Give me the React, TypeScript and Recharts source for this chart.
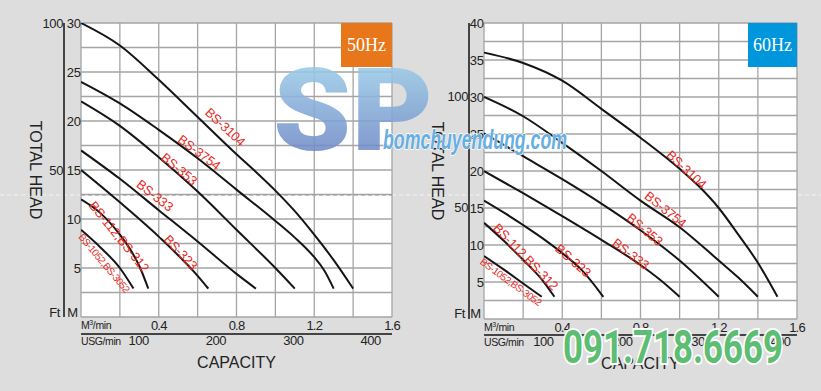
import { LineChart, Line, XAxis, YAxis, CartesianGrid, ReferenceDot, ReferenceLine } from 'recharts'

const MODELS = ['BS-3104', 'BS-3754', 'BS-353', 'BS-333', 'BS-323', 'BS-112,BS-312', 'BS-1052,BS-3052']

// 50Hz: capacity (m3/min) / total head (m)
const Q50_3104 = [0, 0.2, 0.4, 0.6, 0.8, 0.9, 1.0, 1.1, 1.2, 1.3, 1.4]
const H50_3104 = [30, 27.7, 24.2, 20.4, 16.6, 14.8, 12.9, 10.8, 8.4, 5.8, 2.9]
const Q50_3754 = [0, 0.2, 0.4, 0.6, 0.8, 1.0, 1.1, 1.2, 1.25, 1.3]
const H50_3754 = [24.0, 21.8, 19.1, 16.2, 13.0, 9.8, 8.1, 6.1, 4.8, 2.9]
const Q50_353 = [0, 0.2, 0.4, 0.6, 0.8, 1.0, 1.1]
const H50_353 = [22.0, 19.5, 16.3, 12.8, 8.9, 5.0, 2.9]
const Q50_333 = [0, 0.2, 0.4, 0.6, 0.8, 0.9]
const H50_333 = [17.0, 14.1, 10.9, 7.7, 4.4, 2.9]
const Q50_323 = [0, 0.2, 0.4, 0.6, 0.655]
const H50_323 = [15.0, 11.7, 8.2, 4.2, 2.9]
const Q50_112 = [0, 0.1, 0.2, 0.25, 0.3, 0.346]
const H50_112 = [12.0, 10.6, 8.4, 7.0, 5.2, 2.9]
const Q50_1052 = [0, 0.1, 0.2, 0.27]
const H50_1052 = [8.9, 7.1, 5.0, 2.9]

// 60Hz
const Q60_3104 = [0, 0.2, 0.4, 0.6, 0.8, 1.0, 1.1, 1.2, 1.3, 1.4, 1.5]
const H60_3104 = [36.0, 34.6, 32.2, 28.4, 24.5, 20.3, 17.9, 15.0, 11.4, 7.6, 3.0]
const Q60_3754 = [0, 0.2, 0.4, 0.6, 0.8, 1.0, 1.2, 1.3, 1.4]
const H60_3754 = [30.0, 27.4, 23.8, 20.0, 16.0, 12.4, 7.9, 5.6, 3.0]
const Q60_353 = [0, 0.2, 0.4, 0.6, 0.8, 1.0, 1.2]
const H60_353 = [25.1, 22.0, 18.9, 15.6, 12.0, 7.9, 3.0]
const Q60_333 = [0, 0.2, 0.4, 0.6, 0.8, 0.9, 1.0]
const H60_333 = [20.0, 17.0, 13.9, 10.7, 7.3, 5.3, 3.0]
const Q60_323 = [0, 0.1, 0.2, 0.3, 0.4, 0.5, 0.61]
const H60_323 = [16.0, 14.4, 12.7, 10.9, 8.9, 6.6, 3.0]
const Q60_112 = [0, 0.1, 0.2, 0.3, 0.36]
const H60_112 = [13.0, 10.6, 8.0, 5.2, 3.0]
const Q60_1052 = [0, 0.1, 0.2, 0.295]
const H60_1052 = [8.5, 6.7, 4.8, 3.0]

// where each model name sits (m3/min, m)
const LABEL_Q_50 = [0.742, 0.608, 0.505, 0.38, 0.513, 0.196, 0.119]
const LABEL_H_50 = [19.4, 16.8, 15.1, 12.4, 6.6, 8.2, 5.5]
const LABEL_Q_60 = [1.035, 0.928, 0.822, 0.75, 0.456, 0.213, 0.137]
const LABEL_H_60 = [20.2, 14.8, 12.1, 8.8, 7.9, 8.4, 5.0]
const ANGLE_50 = [43, 37, 40, 38, 47, 51, 50]
const ANGLE_60 = [43, 39, 40, 37, 41, 46, 36]

const Q_TICKS = [0, 0.2, 0.4, 0.6, 0.8, 1.0, 1.2, 1.4, 1.6]
const Q_LABELS = ['M', '', '0.4', '', '0.8', '', '1.2', '', '1.6']
const USG_TICKS = [100, 200, 300, 400]
const H_TICKS_50 = [0, 2.5, 5, 7.5, 10, 12.5, 15, 17.5, 20, 22.5, 25, 27.5, 30]
const H_TICKS_60 = [0, 2.5, 5, 7.5, 10, 12.5, 15, 17.5, 20, 22.5, 25, 27.5, 30, 32.5, 35, 37.5, 40]
const FT_TICKS = [0, 50, 100]
const FT_LABELS = ['Ft', '50', '100']

const pts = (q: number[], h: number[]) => q.map((x, i) => ({ q: x, h: h[i] }))
const USG_ROWS = USG_TICKS.map(v => ({ usg: v }))

const CURVES_50 = [
  pts(Q50_3104, H50_3104), pts(Q50_3754, H50_3754), pts(Q50_353, H50_353), pts(Q50_333, H50_333),
  pts(Q50_323, H50_323), pts(Q50_112, H50_112), pts(Q50_1052, H50_1052),
]
const CURVES_60 = [
  pts(Q60_3104, H60_3104), pts(Q60_3754, H60_3754), pts(Q60_353, H60_353), pts(Q60_333, H60_333),
  pts(Q60_323, H60_323), pts(Q60_112, H60_112), pts(Q60_1052, H60_1052),
]

// axis ids: recharts stacks same-side axes in id order, inner first
const X_M3 = 'q1'
const X_USG = 'q2'
const Y_M = 'h1'
const Y_FT = 'h2'

const TXT = '#222'
const RED = '#ea2a22'

const qTick = (baseDy: number) => (p: any) => {
  const i = Q_TICKS.indexOf(p.payload.value)
  if (i === 0) {
    return (
      <text x={p.x} y={p.y + baseDy - 1} fontSize={10.5} fill={TXT} letterSpacing={-0.4}>
        M<tspan dy={-4} fontSize={7}>3</tspan><tspan dy={4}>/min</tspan>
      </text>
    )
  }
  if (!Q_LABELS[i]) return <g />
  return (
    <text x={p.x} y={p.y + baseDy} textAnchor="middle" fontSize={13} fill={TXT} letterSpacing={-0.8}>
      {Q_LABELS[i]}
    </text>
  )
}

const usgTick = (first: number, baseDy: number) => (p: any) => {
  const v = p.payload.value
  if (v === first) {
    return <text x={p.x} y={p.y + baseDy} fontSize={10.5} fill={TXT} letterSpacing={-0.4}>USG/min</text>
  }
  return <text x={p.x} y={p.y + baseDy} textAnchor="middle" fontSize={13} fill={TXT} letterSpacing={-0.5}>{v}</text>
}

const mTick = (zeroDy: number) => (p: any) => {
  const v = p.payload.value
  if (v === 0) return <text x={p.x - 3} y={p.y + zeroDy} dy={4.5} textAnchor="end" fontSize={13} fill={TXT}>M</text>
  if (v % 5 !== 0) return <g />
  return <text x={p.x - 0.5} y={p.y} dy={4.5} textAnchor="end" fontSize={13} fill={TXT} letterSpacing={-0.4}>{v}</text>
}

const ftTick = (zeroDy: number) => (p: any) => {
  const i = FT_TICKS.indexOf(p.payload.value)
  return (
    <text x={p.x - (i === 0 ? 4 : 1)} y={p.y + (i === 0 ? zeroDy : 0)} dy={4.5} textAnchor="end" fontSize={13} fill={TXT} letterSpacing={-0.4}>
      {FT_LABELS[i]}
    </text>
  )
}

interface PanelProps {
  left: number
  width: number
  marginRight: number
  curves: { q: number; h: number }[][]
  labelQ: number[]
  labelH: number[]
  angles: number[]
  hMax: number
  hTicks: number[]
  ftDomain: [number, number]
  usgDomain: [number, number]
  ftWidth: number
  mWidth: number
  m3Height: number
  usgHeight: number
  titleX: number
  zeroDy: number
  dashH?: number
}

function Panel(props: PanelProps) {
  const { left, width, marginRight, curves, labelQ, labelH, angles, hMax, hTicks, ftDomain, usgDomain,
    ftWidth, mWidth, m3Height, usgHeight, titleX, zeroDy, dashH } = props
  return (
    <div style={{ position: 'absolute', left, top: 0 }}>
      <LineChart width={width} height={391} data={USG_ROWS} margin={{ top: 23, right: marginRight, bottom: 0, left: 0 }}>
        <CartesianGrid xAxisId={X_M3} yAxisId={Y_M} stroke="#a5a5a5" strokeWidth={1.3} fill="#fff" />
        <XAxis xAxisId={X_M3} type="number" dataKey="q" domain={[0, 1.6]} ticks={Q_TICKS} interval={0}
          height={m3Height} axisLine={false} tickLine={false} tickSize={0} tickMargin={0}
          tick={qTick(13)} allowDataOverflow />
        <XAxis xAxisId={X_USG} type="number" dataKey="usg" domain={usgDomain} ticks={[usgDomain[0], ...USG_TICKS]} interval={0}
          height={usgHeight} axisLine={{ stroke: '#111', strokeWidth: 1.5 }} tickLine={false} tickSize={0}
          tickMargin={0} tick={usgTick(usgDomain[0], 11)} allowDataOverflow
          label={(lp: any) => (
            <text x={lp.viewBox.x + lp.viewBox.width / 2} y={lp.viewBox.y + 34} textAnchor="middle"
              fontSize={16} fill={TXT}>CAPACITY</text>
          )} />
        <YAxis yAxisId={Y_M} type="number" domain={[0, hMax]} ticks={hTicks} interval={0} width={mWidth}
          axisLine={false} tickLine={false} tickSize={0} tickMargin={0} tick={mTick(zeroDy)} allowDataOverflow />
        <YAxis yAxisId={Y_FT} type="number" domain={ftDomain} ticks={FT_TICKS} interval={0} width={ftWidth}
          axisLine={{ stroke: '#111', strokeWidth: 1.5 }} tickLine={false} tickSize={0} tickMargin={0}
          tick={ftTick(zeroDy)} allowDataOverflow
          label={(lp: any) => {
            const cx = lp.viewBox.x + titleX
            const cy = lp.viewBox.y + lp.viewBox.height / 2
            return (
              <text x={cx} y={cy} transform={`rotate(90 ${cx} ${cy})`} textAnchor="middle"
                dominantBaseline="central" fontSize={16} fill={TXT}>TOTAL HEAD</text>
            )
          }} />
        {dashH !== undefined && (
          <ReferenceLine xAxisId={X_M3} yAxisId={Y_M} y={dashH} stroke="#9c9c9c" strokeDasharray="4 3" strokeWidth={1} />
        )}
        {curves.map((c, i) => (
          <Line key={MODELS[i]} xAxisId={X_M3} yAxisId={Y_M} data={c} dataKey="h" type="monotone"
            stroke="#151515" strokeWidth={2} dot={false} isAnimationActive={false} />
        ))}
        {MODELS.map((m, i) => (
          <ReferenceDot key={m} xAxisId={X_M3} yAxisId={Y_M} x={labelQ[i]} y={labelH[i]} r={0}
            ifOverflow="visible"
            shape={(p: any) => (
              <text x={p.cx} y={p.cy} transform={`rotate(${angles[i]} ${p.cx} ${p.cy})`}
                textAnchor="middle" dominantBaseline="central" fill={RED}
                fontSize={i === 6 ? 10 : 13} letterSpacing={i === 6 ? -0.5 : -0.2}>{m}</text>
            )} />
        ))}
      </LineChart>
    </div>
  )
}

export default function App() {
  return (
    <div style={{
      position: 'absolute', left: 0, top: 0, width: 821, height: 391, background: '#dddddd',
      overflow: 'hidden', fontFamily: '"Liberation Sans", Arial, sans-serif',
    }}>
      <svg width={821} height={391} style={{ position: 'absolute', left: 0, top: 0 }}>
        <line x1={0} x2={821} y1={195} y2={195} stroke="#f4f4f4" strokeWidth={1} strokeDasharray="4 3" />
      </svg>
      <Panel left={0} width={410} marginRight={18} curves={CURVES_50} labelQ={LABEL_Q_50} labelH={LABEL_H_50}
        angles={ANGLE_50} hMax={30} hTicks={H_TICKS_50} ftDomain={[0, 100]} usgDomain={[25.6, 427.5]}
        ftWidth={64} mWidth={17} m3Height={17} usgHeight={57} titleX={35} zeroDy={-5} dashH={12.44} />
      <Panel left={410} width={411} marginRight={24} curves={CURVES_60} labelQ={LABEL_Q_60} labelH={LABEL_H_60}
        angles={ANGLE_60} hMax={40} hTicks={H_TICKS_60} ftDomain={[0, 133.33]} usgDomain={[25, 421]}
        ftWidth={59} mWidth={15} m3Height={16} usgHeight={56} titleX={27} zeroDy={-6} />

      <div style={{
        position: 'absolute', left: 341, top: 23, width: 51, height: 44, background: '#e8761a', color: '#fff',
        fontFamily: '"Liberation Serif", "DejaVu Serif", serif', fontSize: 18, lineHeight: '44px', textAlign: 'center',
      }}>50Hz</div>
      <div style={{
        position: 'absolute', left: 748, top: 23, width: 49, height: 44, background: '#0096db', color: '#fff',
        fontFamily: '"Liberation Serif", "DejaVu Serif", serif', fontSize: 18, lineHeight: '44px', textAlign: 'center',
      }}>60Hz</div>

      <svg width={821} height={391} style={{ position: 'absolute', left: 0, top: 0, pointerEvents: 'none' }}>
        <defs>
          <linearGradient id="spGrad" x1="0" y1="0" x2="0" y2="1">
            <stop offset="0%" stopColor="#a6dcf1" />
            <stop offset="100%" stopColor="#6478bd" />
          </linearGradient>
        </defs>
        <text x={273} y={150} fontFamily="Roboto, 'Liberation Sans', sans-serif" fontWeight={900} fontSize={115}
          textLength={160} lengthAdjust="spacingAndGlyphs" fill="url(#spGrad)" opacity={0.88}>SP</text>
        <text x={383} y={149} fontFamily="'Liberation Sans', Arial, sans-serif" fontWeight={700} fontStyle="italic"
          fontSize={27} textLength={184} lengthAdjust="spacingAndGlyphs" fill="#67aee3" stroke="#ffffff"
          strokeWidth={1.5} paintOrder="stroke">bomchuyendung.com</text>
        <text x={563} y={363} fontFamily="Roboto, 'Liberation Sans', sans-serif" fontWeight={700} fontSize={46}
          textLength={220} lengthAdjust="spacingAndGlyphs" fill="#5cbd73" stroke="#ffffff" strokeWidth={4}
          paintOrder="stroke">091.718.6669</text>
      </svg>
    </div>
  )
}
